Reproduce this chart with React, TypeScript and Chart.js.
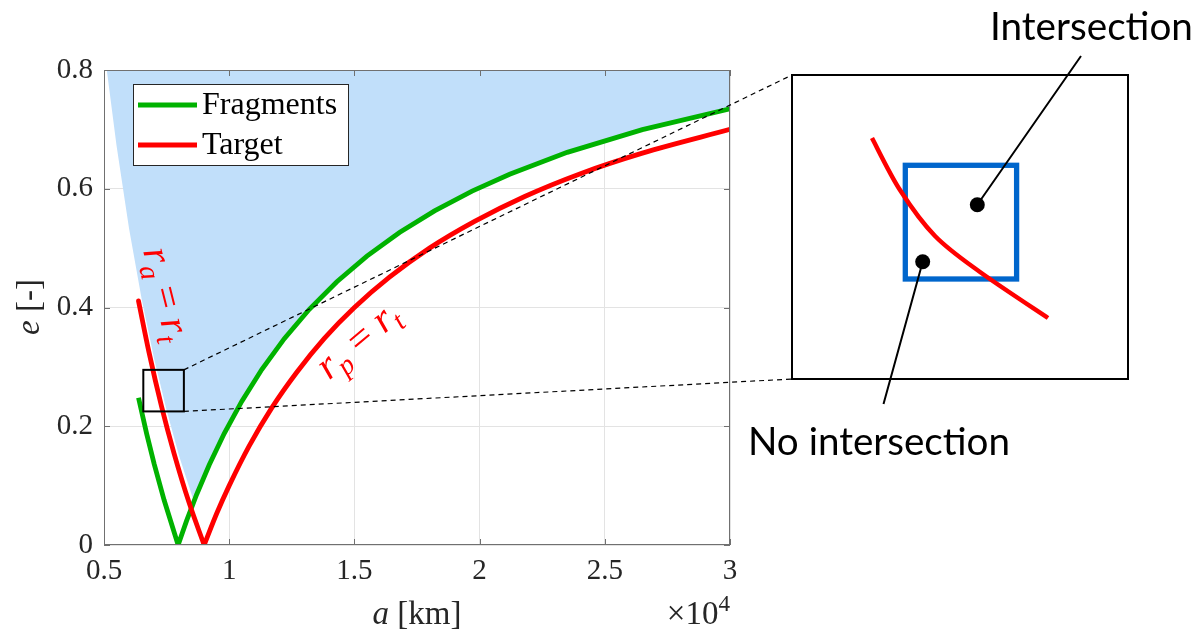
import React, { useEffect, useRef } from "react";
import { Chart, registerables } from "chart.js";

Chart.register(...registerables);

// Fragments: eccentricity bound vs semi-major axis (km)
const fragmentA = [6378, 6700, 7000, 7400, 7960, 8300, 8700, 9200, 9800, 10500, 11300, 12200, 13200, 14300, 15500, 16800, 18200, 19700, 21200, 23500, 26500, 30000];
const fragmentE = [0.248, 0.188, 0.137, 0.0757, 0, 0.041, 0.0851, 0.1348, 0.1878, 0.2419, 0.2956, 0.3475, 0.397, 0.4434, 0.4865, 0.5262, 0.5626, 0.5959, 0.6245, 0.6613, 0.6996, 0.7347];

// Target: apogee branch (r_a = r_t) and perigee branch (r_p = r_t)
const targetApoA = [6378, 6800, 7300, 7800, 8400, 9000];
const targetApoE = [0.411, 0.324, 0.233, 0.154, 0.071, 0];
const targetPeriA = [9000, 9500, 10000, 10800, 11700, 12700, 13800, 15000, 16400, 18000, 19800, 21800, 24000, 26500, 30000];
const targetPeriE = [0, 0.053, 0.1, 0.167, 0.231, 0.291, 0.348, 0.4, 0.451, 0.5, 0.545, 0.587, 0.625, 0.66, 0.7];

// Lower boundary of the shaded region (filled up to e = 0.8)
const regionA = [5111, 5500, 6000, 6500, 7000, 7500, 8000, 8600, 8700, 9200, 9800, 10500, 11300, 12200, 13200, 14300, 15500, 16800, 18200, 19700, 21200, 23500, 26500, 30000];
const regionE = [0.8, 0.673, 0.533, 0.415, 0.314, 0.227, 0.15, 0.072, 0.0851, 0.1348, 0.1878, 0.2419, 0.2956, 0.3475, 0.397, 0.4434, 0.4865, 0.5262, 0.5626, 0.5959, 0.6245, 0.6613, 0.6996, 0.7347];

// Axis ticks
const xTicks = [5000, 10000, 15000, 20000, 25000, 30000];
const xTickLabels = ["0.5", "1", "1.5", "2", "2.5", "3"];
const yTicks = [0, 0.2, 0.4, 0.6, 0.8];
const yTickLabels = ["0", "0.2", "0.4", "0.6", "0.8"];

// Zoomed window on the apogee branch (a in km, e)
const zoomWindowA = [6570, 8190];
const zoomWindowE = [0.225, 0.295];

const SERIF = '"Liberation Serif", "Times New Roman", serif';
const SANS = 'Lato, "Liberation Sans", sans-serif';
const GREEN = "rgb(0,178,0)";
const RED = "rgb(255,0,0)";
const SHADE = "rgb(193,223,250)";
const AXIS = "#707070";

const pts = (xs: number[], ys: number[]) => xs.map((x, i) => ({ x, y: ys[i] }));

type Run = { t: string; italic?: boolean; shift?: "sub" | "sup" };

function runFont(r: Run, size: number) {
  const s = r.shift ? size * 0.7 : size;
  return `${r.italic ? "italic " : ""}${s}px ${SERIF}`;
}

function drawRuns(
  ctx: CanvasRenderingContext2D,
  runs: Run[],
  x: number,
  y: number,
  size: number,
  color: string,
  angle = 0,
  align: "left" | "center" | "right" = "left",
  vcenter = false
) {
  ctx.save();
  ctx.translate(x, y);
  ctx.rotate(angle);
  ctx.fillStyle = color;
  ctx.textBaseline = "alphabetic";
  ctx.textAlign = "left";
  const widths = runs.map((r) => {
    ctx.font = runFont(r, size);
    return ctx.measureText(r.t).width;
  });
  const total = widths.reduce((a, b) => a + b, 0);
  let cx = align === "center" ? -total / 2 : align === "right" ? -total : 0;
  const base = vcenter ? size * 0.22 : 0;
  runs.forEach((r, i) => {
    ctx.font = runFont(r, size);
    const dy = r.shift === "sub" ? size * 0.2 : r.shift === "sup" ? -size * 0.4 : 0;
    ctx.fillText(r.t, cx, base + dy);
    cx += widths[i];
  });
  ctx.restore();
}

function fitText(ctx: CanvasRenderingContext2D, text: string, width: number) {
  ctx.font = `40px ${SANS}`;
  return (40 * width) / ctx.measureText(text).width;
}

// smooth open curve through the given points (Catmull-Rom)
function smoothPath(ctx: CanvasRenderingContext2D, p: number[][]) {
  ctx.moveTo(p[0][0], p[0][1]);
  for (let i = 0; i < p.length - 1; i++) {
    const p0 = p[Math.max(0, i - 1)];
    const p1 = p[i];
    const p2 = p[i + 1];
    const p3 = p[Math.min(p.length - 1, i + 2)];
    ctx.bezierCurveTo(
      p1[0] + (p2[0] - p0[0]) / 6,
      p1[1] + (p2[1] - p0[1]) / 6,
      p2[0] - (p3[0] - p1[0]) / 6,
      p2[1] - (p3[1] - p1[1]) / 6,
      p2[0],
      p2[1]
    );
  }
}

// Inset schematic layout (pixels)
const inset = { left: 792, top: 75, right: 1128, bottom: 379 };
const insetCurve = [
  [872, 138],
  [900, 190],
  [935, 236],
  [980, 272],
  [1048, 318],
];
const insetSquare = { x: 905.3, y: 165.3, w: 111.3, h: 113.7 };
const dotIn = [977.3, 204.7];
const dotOut = [922.7, 261.7];

const overlay = {
  id: "overlay",
  afterDraw(chart: any) {
    const ctx: CanvasRenderingContext2D = chart.ctx;
    const { left, right, top, bottom } = chart.chartArea;
    const xs = chart.scales.x;
    const ys = chart.scales.y;

    // axes box and inward ticks
    ctx.save();
    ctx.strokeStyle = AXIS;
    ctx.lineWidth = 1;
    ctx.strokeRect(left + 0.5, top + 0.5, right - left - 1, bottom - top - 1);
    ctx.beginPath();
    xTicks.forEach((v) => {
      const px = Math.round(xs.getPixelForValue(v)) + 0.5;
      ctx.moveTo(px, bottom);
      ctx.lineTo(px, bottom - 6);
      ctx.moveTo(px, top);
      ctx.lineTo(px, top + 6);
    });
    yTicks.forEach((v) => {
      const py = Math.round(ys.getPixelForValue(v)) + 0.5;
      ctx.moveTo(left, py);
      ctx.lineTo(left + 6, py);
      ctx.moveTo(right, py);
      ctx.lineTo(right - 6, py);
    });
    ctx.stroke();
    ctx.restore();

    // legend
    ctx.save();
    ctx.fillStyle = "#fff";
    ctx.fillRect(133.5, 84.5, 215, 81);
    ctx.strokeStyle = "#262626";
    ctx.lineWidth = 1;
    ctx.strokeRect(133.5, 84.5, 215, 81);
    ctx.lineWidth = 5;
    ctx.strokeStyle = GREEN;
    ctx.beginPath();
    ctx.moveTo(138, 105);
    ctx.lineTo(197, 105);
    ctx.stroke();
    ctx.strokeStyle = RED;
    ctx.beginPath();
    ctx.moveTo(138, 145);
    ctx.lineTo(197, 145);
    ctx.stroke();
    ctx.fillStyle = "#000";
    ctx.font = `32px ${SERIF}`;
    ctx.textBaseline = "alphabetic";
    ctx.fillText("Fragments", 202, 114);
    ctx.fillText("Target", 202, 154);
    ctx.restore();

    // curve labels
    drawRuns(
      ctx,
      [{ t: "r", italic: true }, { t: "a", italic: true, shift: "sub" }, { t: " = " }, { t: "r", italic: true }, { t: "t", italic: true, shift: "sub" }],
      163,
      295,
      40,
      RED,
      (76 * Math.PI) / 180,
      "center",
      true
    );
    drawRuns(
      ctx,
      [{ t: "r", italic: true }, { t: "p", italic: true, shift: "sub" }, { t: " = " }, { t: "r", italic: true }, { t: "t", italic: true, shift: "sub" }],
      360,
      343,
      40,
      RED,
      (-40 * Math.PI) / 180,
      "center",
      true
    );

    // zoom window and connectors
    const zx0 = xs.getPixelForValue(zoomWindowA[0]);
    const zx1 = xs.getPixelForValue(zoomWindowA[1]);
    const zy0 = ys.getPixelForValue(zoomWindowE[1]);
    const zy1 = ys.getPixelForValue(zoomWindowE[0]);
    ctx.save();
    ctx.strokeStyle = "#000";
    ctx.lineWidth = 2;
    ctx.strokeRect(zx0, zy0, zx1 - zx0, zy1 - zy0);
    ctx.lineWidth = 1.2;
    ctx.setLineDash([5, 4]);
    ctx.beginPath();
    ctx.moveTo(zx1, zy0);
    ctx.lineTo(inset.left, inset.top);
    ctx.moveTo(zx1, zy1);
    ctx.lineTo(inset.left, inset.bottom);
    ctx.stroke();
    ctx.setLineDash([]);

    // inset schematic
    ctx.fillStyle = "#fff";
    ctx.fillRect(inset.left, inset.top, inset.right - inset.left, inset.bottom - inset.top);
    ctx.lineWidth = 2;
    ctx.strokeStyle = "#000";
    ctx.strokeRect(inset.left, inset.top, inset.right - inset.left, inset.bottom - inset.top);

    ctx.strokeStyle = "#0066cc";
    ctx.lineWidth = 5.3;
    ctx.strokeRect(insetSquare.x, insetSquare.y, insetSquare.w, insetSquare.h);

    ctx.strokeStyle = RED;
    ctx.lineWidth = 4.5;
    ctx.beginPath();
    smoothPath(ctx, insetCurve);
    ctx.stroke();

    ctx.strokeStyle = "#000";
    ctx.lineWidth = 2;
    ctx.beginPath();
    ctx.moveTo(dotIn[0], dotIn[1]);
    ctx.lineTo(1081, 56);
    ctx.moveTo(dotOut[0], dotOut[1]);
    ctx.lineTo(883.5, 404);
    ctx.stroke();
    ctx.fillStyle = "#000";
    [dotIn, dotOut].forEach(([x, y]) => {
      ctx.beginPath();
      ctx.arc(x, y, 7.5, 0, Math.PI * 2);
      ctx.fill();
    });

    ctx.textBaseline = "alphabetic";
    ctx.textAlign = "left";
    let fs = fitText(ctx, "Intersection", 203);
    ctx.font = `${fs}px ${SANS}`;
    ctx.fillText("Intersection", 990, 40);
    fs = fitText(ctx, "No intersection", 262);
    ctx.font = `${fs}px ${SANS}`;
    ctx.fillText("No intersection", 748, 455);
    ctx.restore();

    // axis titles
    drawRuns(ctx, [{ t: "a", italic: true }, { t: " [km]" }], (left + right) / 2, 624, 33, "#262626", 0, "center");
    drawRuns(ctx, [{ t: "×10" }, { t: "4", shift: "sup" }], right, 624, 33, "#262626", 0, "right");
    drawRuns(ctx, [{ t: "e", italic: true }, { t: " [-]" }], 32, 307, 33, "#262626", -Math.PI / 2, "center", true);
  },
};

export default function App() {
  const ref = useRef<HTMLCanvasElement | null>(null);

  useEffect(() => {
    if (!ref.current) return;
    const tickFont = { family: SERIF, size: 29 };
    const chart = new Chart(ref.current, {
      type: "line",
      data: {
        datasets: [
          {
            label: "Target (perigee)",
            data: pts(targetPeriA, targetPeriE),
            borderColor: RED,
            borderWidth: 4.8,
            pointRadius: 0,
            cubicInterpolationMode: "monotone",
            borderCapStyle: "round",
            fill: false,
            clip: 0,
          },
          {
            label: "Target (apogee)",
            data: pts(targetApoA, targetApoE),
            borderColor: RED,
            borderWidth: 4.8,
            pointRadius: 0,
            cubicInterpolationMode: "monotone",
            borderCapStyle: "round",
            fill: false,
            clip: 0,
          },
          {
            label: "Fragments",
            data: pts(fragmentA, fragmentE),
            borderColor: GREEN,
            borderWidth: 4.8,
            pointRadius: 0,
            tension: 0,
            borderJoinStyle: "miter",
            fill: false,
            clip: 0,
          },
          {
            label: "Region",
            data: pts(regionA, regionE),
            borderWidth: 0,
            borderColor: "rgba(0,0,0,0)",
            backgroundColor: SHADE,
            pointRadius: 0,
            tension: 0,
            fill: "end",
            clip: 0,
          },
        ],
      },
      options: {
        animation: false,
        responsive: false,
        events: [],
        layout: { padding: { left: 0, top: 70, right: 469, bottom: 0 } },
        plugins: { legend: { display: false }, tooltip: { enabled: false } },
        scales: {
          x: {
            type: "linear",
            min: 5000,
            max: 30000,
            afterBuildTicks: (axis: any) => {
              axis.ticks = xTicks.map((v) => ({ value: v }));
            },
            afterFit: (axis: any) => {
              axis.height = 84;
            },
            ticks: {
              callback: (_v: any, i: number) => xTickLabels[i],
              font: tickFont,
              color: "#262626",
              padding: 9,
              maxRotation: 0,
              autoSkip: false,
            },
            grid: { color: "#e3e3e3", drawTicks: false, lineWidth: 1 },
            border: { display: false },
          },
          y: {
            type: "linear",
            min: 0,
            max: 0.8,
            afterBuildTicks: (axis: any) => {
              axis.ticks = yTicks.map((v) => ({ value: v }));
            },
            afterFit: (axis: any) => {
              axis.width = 104;
            },
            ticks: {
              callback: (_v: any, i: number) => yTickLabels[i],
              font: tickFont,
              color: "#262626",
              padding: 11,
              autoSkip: false,
            },
            grid: { color: "#e3e3e3", drawTicks: false, lineWidth: 1 },
            border: { display: false },
          },
        },
      } as any,
      plugins: [overlay],
    });
    return () => chart.destroy();
  }, []);

  return (
    <div style={{ position: "fixed", left: 0, top: 0, width: 1199, height: 629, background: "#fff" }}>
      <canvas ref={ref} width={1199} height={629} style={{ display: "block" }} />
    </div>
  );
}
